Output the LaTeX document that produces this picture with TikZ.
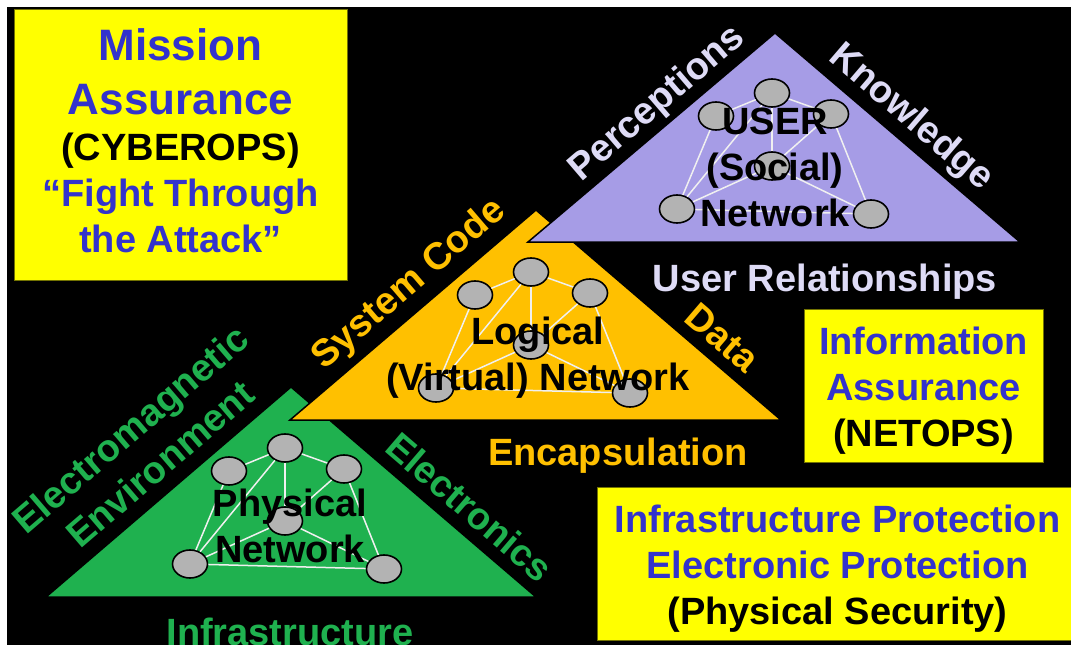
\documentclass[tikz,border=0pt]{standalone}
\usepackage{fontspec}
\setmainfont{Liberation Sans}
\usepackage{xcolor}
\usepackage{tikz}
\usetikzlibrary{calc,shapes.geometric}
\definecolor{ryellow}{HTML}{FFFF00}
\definecolor{rblue}{HTML}{3333CC}
\definecolor{rlav}{HTML}{A69CE6}
\definecolor{rlavtext}{HTML}{DEDBF6}
\definecolor{rgold}{HTML}{FFC000}
\definecolor{rgreen}{HTML}{1FB14F}
\definecolor{rnode}{HTML}{B3B3B3}

% six hosts and their links, #1 = prefix, #2 = top host
\newcommand{\layernet}[2]{%
  \node[netnode] (#1t) at #2 {};
  \node[netnode] (#1lu) at ($(#1t)+(-56,23)$) {};
  \node[netnode] (#1ru) at ($(#1t)+(59,21)$) {};
  \node[netnode] (#1c) at ($(#1t)+(0,73)$) {};
  \node[netnode] (#1bl) at ($(#1t)+(-95,116)$) {};
  \node[netnode] (#1br) at ($(#1t)+(99,121)$) {};
  \foreach \a/\b in {t/lu,t/ru,t/c,t/bl,lu/bl,ru/c,ru/br,c/bl,c/br,bl/br}
    \draw[netedge] (#1\a) -- (#1\b);
}

\begin{document}
\begin{tikzpicture}[x=1pt,y=-1pt,
  every node/.style={font=\bfseries\fontsize{38}{46}\selectfont,inner sep=0pt,align=center},
  infobox/.style={rectangle,fill=ryellow,draw=ryellow!45!black,line width=1pt},
  layer/.style={draw=black,line width=1.5pt},
  netnode/.style={ellipse,fill=rnode,draw=black,line width=1.6pt,minimum width=35pt,minimum height=28pt},
  netedge/.style={draw=white!94!black,line width=1.5pt},
  sidelabel/.style={text height=27pt,text depth=0pt}]
  \useasboundingbox (0,0) rectangle (1071,645);
  \fill[white] (0,0) rectangle (1071,645);
  \fill[black] (7,7) rectangle (1071,645);
  \clip (0,0) rectangle (1071,645);

  % physical layer
  \filldraw[layer,fill=rgreen] (46,597) -- (291,387) -- (536,597) -- cycle;
  \layernet{p}{(285,448)}
  \node (phys) at (290,525.5) {Physical\\Network};
  \node[rgreen,rotate=40.6] (emenv) at (145,446.5) {Electromagnetic\\Environment};
  \node[sidelabel,rgreen,rotate=-40.6] (elec) at (470,507) {Electronics};
  \node[sidelabel,rgreen] (infra) at (290,631.5) {Infrastructure};

  % logical layer
  \filldraw[layer,fill=rgold] (290,420) -- (536,210) -- (781,420) -- cycle;
  \layernet{l}{(531,272)}
  \node (logic) at (538,358) {Logical\\(Virtual) Network};
  \node[sidelabel,rgold,rotate=40.6] (syscode) at (407,282) {System Code};
  \node[sidelabel,rgold,rotate=-40.6] (data) at (723,337) {Data};
  \node[sidelabel,rgold] (encap) at (618,452) {Encapsulation};

  % user layer
  \filldraw[layer,fill=rlav] (528,242) -- (775,33) -- (1020,242) -- cycle;
  \layernet{u}{(772,93)}
  \node (user) at (775,167.5) {USER\\(Social)\\Network};
  \node[sidelabel,rlavtext,rotate=40.6] (percep) at (655,101) {Perceptions};
  \node[sidelabel,rlavtext,rotate=-40.6] (know) at (913,115) {Knowledge};
  \node[sidelabel,rlavtext] (userrel) at (825,278) {User Relationships};

  % assurance boxes
  \node[infobox,minimum width=333pt,minimum height=271pt] (mission) at (180.5,144.5) {};
  \node[text=rblue] (missiontext) at (180.5,141)
    {{\fontsize{44}{54}\selectfont Mission}\\[8pt]{\fontsize{44}{54}\selectfont Assurance}\\
     {\color{black}(CYBEROPS)}\\“Fight Through\\the Attack”};
  \node[infobox,minimum width=239pt,minimum height=153pt] (netops) at (923.5,385.5) {};
  \node[text=rblue] (netopstext) at (923.5,390.5)
    {Information\\Assurance\\{\color{black}(NETOPS)}};
  \node[infobox,minimum width=481pt,minimum height=153pt] (physsec) at (837.5,563.5) {};
  \node[text=rblue] (physsectext) at (837.5,569)
    {Infrastructure Protection\\Electronic Protection\\{\color{black}(Physical Security)}};
\end{tikzpicture}
\end{document}
